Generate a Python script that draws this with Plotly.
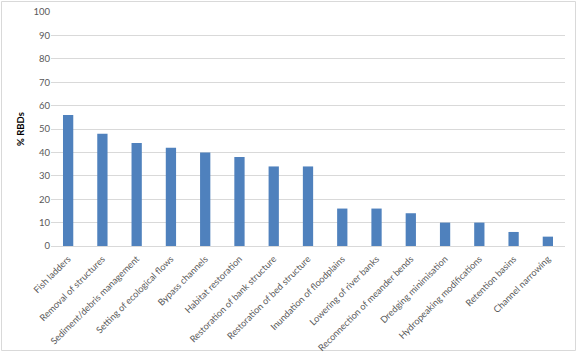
import plotly.graph_objects as go

categories = ["Fish ladders", "Removal of structures", "Sediment/debris management",
              "Setting of ecological flows", "Bypass channels", "Habitat restoration",
              "Restoration of bank structure", "Restoration of bed structure",
              "Inundation of floodplains", "Lowering of river banks",
              "Reconnection of meander bends", "Dredging minimisation",
              "Hydropeaking modifications", "Retention basins", "Channel narrowing"]
values = [56, 48, 44, 42, 40, 38, 34, 34, 16, 16, 14, 10, 10, 6, 4]
y_ticks = [0, 10, 20, 30, 40, 50, 60, 70, 80, 90, 100]

W, H = 577, 354
L, R, T, B = 51, 12, 12, 108
pw, ph = W - L - R, H - T - B

fig = go.Figure(go.Bar(x=categories, y=values, marker_color="#4F81BD",
                       marker_line_width=0))

def px2paper(x, y):
    return (x - L) / pw, (H - B - y) / ph

x0, y0 = px2paper(1.5, 1.5)
x1, y1 = px2paper(575.5, 350.5)

fig.update_layout(
    width=W, height=H,
    margin=dict(l=L, r=R, t=T, b=B, autoexpand=False),
    paper_bgcolor="white", plot_bgcolor="white",
    bargap=0.7,
    showlegend=False,
    font=dict(family="Lato, Arial", size=9, color="#595959"),
    xaxis=dict(tickangle=-45, tickfont=dict(size=9.2, color="#595959"),
               automargin=False,
               showline=True, linecolor="#D9D9D9", linewidth=1,
               ticks="outside", ticklen=3, tickcolor="rgba(0,0,0,0)", showgrid=False),
    yaxis=dict(range=[0, 100], tickvals=y_ticks, showgrid=True, automargin=False,
               gridcolor="#D9D9D9", gridwidth=1, zeroline=False,
               tickfont=dict(size=9.5, color="#595959"), ticks="", ticklen=0,
               title=dict(text="<b>% RBDs</b>", font=dict(size=9.5, color="#000000"),
                          standoff=7)),
    shapes=[dict(type="rect", xref="paper", yref="paper", x0=x0, y0=y0, x1=x1, y1=y1,
                 line=dict(color="#D9D9D9", width=1), layer="below")],
)

fig.write_html("out.html")
